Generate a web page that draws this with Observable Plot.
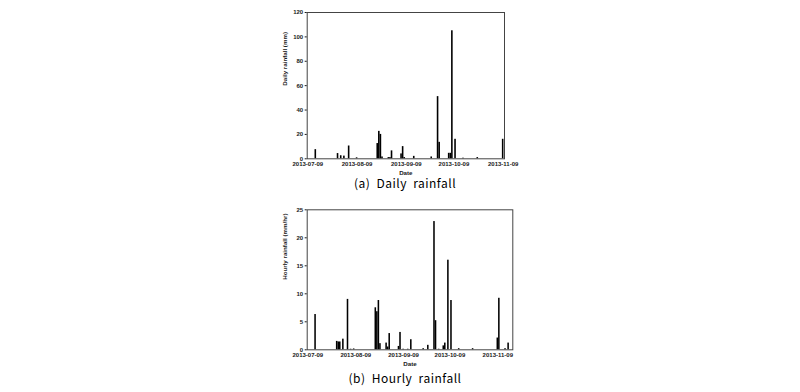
<!DOCTYPE html>
<html><head><meta charset="utf-8">
<script src="https://cdn.jsdelivr.net/npm/d3@7"></script>
<script src="https://cdn.jsdelivr.net/npm/@observablehq/plot@0.6"></script>
<style>
body{margin:0;background:#fff;}
#wrap{position:relative;width:800px;height:392px;background:#fff;overflow:hidden;}
#wrap svg{position:absolute;left:0;}
.cap{position:absolute;left:5px;width:800px;text-align:center;font-family:"Noto Sans CJK KR","Noto Sans",sans-serif;font-size:12px;line-height:16px;color:#000;letter-spacing:0.5px;word-spacing:3px;}
</style></head><body>
<div id="wrap"></div>
<script>
const tickDates = ["2013-07-09","2013-08-09","2013-09-09","2013-10-09","2013-11-09"];

const dailyDates = ["2013-07-14","2013-07-28","2013-07-30","2013-08-01","2013-08-04","2013-08-09",
  "2013-08-22","2013-08-23","2013-08-24","2013-08-25","2013-08-29","2013-08-30","2013-08-31",
  "2013-09-06","2013-09-07","2013-09-08","2013-09-14","2013-09-25","2013-09-29","2013-09-30",
  "2013-10-06","2013-10-07","2013-10-08","2013-10-10","2013-10-15","2013-10-24","2013-11-09"];
const dailyValues = [7.5,4.3,2.5,2.2,10.5,0.8,
  12.5,22.5,20,1.5,1,1,6.5,
  4,10,1,2,1.5,51,13.5,
  4.5,4.5,105,16,0.5,1,16];

const hourlyDates = ["2013-07-14","2013-07-28","2013-07-29","2013-07-30","2013-08-01","2013-08-04","2013-08-06","2013-08-08",
  "2013-08-22","2013-08-23","2013-08-24","2013-08-25","2013-08-29","2013-08-30","2013-08-31",
  "2013-09-06","2013-09-07","2013-09-09","2013-09-12","2013-09-14","2013-09-22","2013-09-25","2013-09-29","2013-09-30",
  "2013-10-02","2013-10-05","2013-10-06","2013-10-08","2013-10-10","2013-10-15","2013-10-24",
  "2013-11-09","2013-11-10","2013-11-14","2013-11-16"];
const hourlyValues = [6.3,1.5,1.4,1.4,1.9,9.0,0.1,0.15,
  7.5,6.8,8.8,1.1,1.2,0.5,2.9,
  0.6,3.1,0.1,0.1,1.8,0.2,0.8,22.9,5.2,
  0.1,0.7,1.2,16,8.8,0.2,0.2,
  2.1,9.2,0.2,1.2];

const parse = d3.utcParse("%Y-%m-%d");

function chart(dates, values, o) {
  const data = dates.map((d, i) => ({date: parse(d), value: values[i]}));
  return Plot.plot({
    width: 800, height: o.height,
    marginLeft: 306.7, marginRight: 800 - o.right,
    marginTop: o.top, marginBottom: o.height - o.bottom,
    style: {fontFamily: "'Liberation Sans', Arial, sans-serif", fontSize: "6px", fontWeight: "bold", color: "#1a1a1a", background: "transparent", overflow: "visible"},
    x: {type: "utc", domain: o.domain.map(s => new Date(s))},
    y: {domain: [0, o.yMax]},
    marks: [
      Plot.rectY(data, {x1: d => d3.utcHour.offset(d.date, -12), x2: d => d3.utcHour.offset(d.date, 12), y: "value", fill: "#000"}),
      Plot.frame({stroke: "#444", strokeWidth: 1}),
      Plot.axisX({ticks: tickDates.map(parse), tickFormat: d3.utcFormat("%Y-%m-%d"), tickSize: 0, tickPadding: 3, label: null}),
      Plot.axisY({ticks: d3.range(0, o.yMax + 1, o.yStep), tickSize: 2, tickPadding: 2, label: null}),
      Plot.text([o.yLabel], {frameAnchor: "left", dx: -22, rotate: -90, fontSize: 6.2, fontWeight: "bold"}),
      Plot.text(["Date"], {frameAnchor: "bottom", dy: 15.7, fontSize: 6.2, fontWeight: "bold"})
    ]
  });
}

const wrap = document.getElementById("wrap");
const a = chart(dailyDates, dailyValues, {height: 180, top: 12, bottom: 158.3, right: 504,
  domain: ["2013-07-08T14:00Z", "2013-11-09T20:00Z"], yMax: 120, yStep: 20, yLabel: "Daily rainfall (mm)"});
a.style.top = "0px";
wrap.appendChild(a);
const b = chart(hourlyDates, hourlyValues, {height: 178, top: 14.3, bottom: 154.3, right: 512.3,
  domain: ["2013-07-08T14:00Z", "2013-11-18T17:00Z"], yMax: 25, yStep: 5, yLabel: "Hourly rainfall (mm/hr)"});
b.style.top = "195px";
wrap.appendChild(b);

const capA = document.createElement("div");
capA.className = "cap"; capA.style.top = "175px"; capA.textContent = "(a) Daily rainfall";
wrap.appendChild(capA);
const capB = document.createElement("div");
capB.className = "cap"; capB.style.top = "370px"; capB.textContent = "(b) Hourly rainfall";
wrap.appendChild(capB);
</script>
</body></html>
